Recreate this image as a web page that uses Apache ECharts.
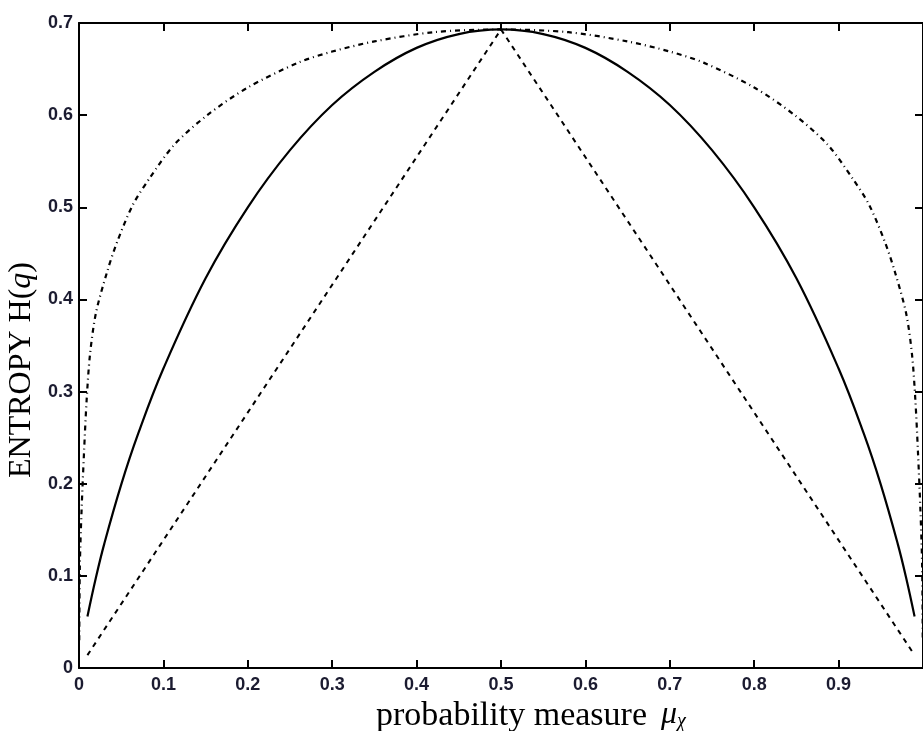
<!DOCTYPE html>
<html>
<head>
<meta charset="utf-8">
<script src="https://cdn.jsdelivr.net/npm/echarts@6/dist/echarts.min.js"></script>
<style>
  html, body { margin: 0; padding: 0; background: #fff; }
  #chart { width: 923px; height: 731px; }
</style>
</head>
<body>
<div id="chart"></div>
<script>
// Probability values along the horizontal axis and the three entropy curves
const solidX = [0.01, 0.02, 0.03, 0.05, 0.07, 0.10, 0.15, 0.20, 0.25, 0.30, 0.35, 0.40, 0.45, 0.50,
                0.55, 0.60, 0.65, 0.70, 0.75, 0.80, 0.85, 0.90, 0.93, 0.95, 0.97, 0.98, 0.99];
const solidY = [0.056, 0.098, 0.135, 0.199, 0.254, 0.325, 0.423, 0.500, 0.562, 0.611, 0.647, 0.673, 0.688, 0.693,
                0.688, 0.673, 0.647, 0.611, 0.562, 0.500, 0.423, 0.325, 0.254, 0.199, 0.135, 0.098, 0.056];

const triX = [0.01, 0.50, 0.99];
const triY = [0.014, 0.693, 0.014];

const outerX = [0.0003, 0.001, 0.003, 0.006, 0.009, 0.013, 0.02, 0.033, 0.045, 0.064, 0.084, 0.113, 0.152, 0.20,
                0.26, 0.30, 0.35, 0.42, 0.50, 0.58, 0.65, 0.70, 0.74, 0.80, 0.848, 0.887, 0.916, 0.936, 0.955, 0.967,
                0.98, 0.987, 0.991, 0.994, 0.997, 0.999, 0.9997];
const outerY = [0.03, 0.11, 0.17, 0.235, 0.29, 0.34, 0.385, 0.429, 0.462, 0.503, 0.532, 0.568, 0.600, 0.630,
                0.657, 0.669, 0.680, 0.690, 0.693, 0.690, 0.680, 0.669, 0.657, 0.630, 0.600, 0.568, 0.532, 0.503,
                0.462, 0.429, 0.385, 0.34, 0.29, 0.235, 0.17, 0.11, 0.03];

// Axis ranges and tick spacing
const xRange = [0, 1], xStep = 0.1;
const yRange = [0, 0.7], yStep = 0.1;

const pairs = (xs, ys) => xs.map((v, i) => [v, ys[i]]);

const labelStyle = {
  fontFamily: 'Liberation Sans, Arial, sans-serif',
  fontWeight: 'bold',
  fontSize: 18,
  color: '#1b1b30'
};
const lineAxis = { show: true, onZero: false, lineStyle: { color: '#000', width: 2 } };
const inTick = { show: true, inside: true, length: 8, lineStyle: { color: '#000', width: 2 } };
const serif = '"Liberation Serif", "Times New Roman", serif';

const chart = echarts.init(document.getElementById('chart'), null, { renderer: 'canvas' });
chart.setOption({
  animation: false,
  backgroundColor: '#fff',
  grid: { left: 79, right: -5, top: 23, bottom: 63, containLabel: false },
  xAxis: [
    {
      type: 'value', position: 'bottom', min: xRange[0], max: xRange[1], interval: xStep,
      axisLine: lineAxis, axisTick: inTick, splitLine: { show: false },
      axisLabel: Object.assign({ margin: 8, showMaxLabel: false }, labelStyle)
    },
    {
      type: 'value', position: 'top', min: xRange[0], max: xRange[1], interval: xStep,
      axisLine: lineAxis, axisTick: inTick, splitLine: { show: false },
      axisLabel: { show: false }
    }
  ],
  yAxis: [
    {
      type: 'value', position: 'left', min: yRange[0], max: yRange[1], interval: yStep,
      axisLine: lineAxis, axisTick: inTick, splitLine: { show: false },
      axisLabel: Object.assign({ margin: 6 }, labelStyle)
    },
    {
      type: 'value', position: 'right', min: yRange[0], max: yRange[1], interval: yStep,
      axisLine: lineAxis, axisTick: inTick, splitLine: { show: false },
      axisLabel: { show: false }
    }
  ],
  series: [
    {
      name: 'outer', type: 'line', symbol: 'none', smooth: 0.3,
      data: pairs(outerX, outerY),
      lineStyle: { color: '#000', width: 2.2, type: [5, 4, 1, 4] }
    },
    {
      name: 'binary', type: 'line', symbol: 'none', smooth: 0.4,
      data: pairs(solidX, solidY),
      lineStyle: { color: '#000', width: 2.2, type: 'solid' }
    },
    {
      name: 'triangle', type: 'line', symbol: 'none',
      data: pairs(triX, triY),
      lineStyle: { color: '#000', width: 2, type: [5, 5] }
    }
  ],
  graphic: [
    {
      type: 'text', x: 22, y: 370, rotation: Math.PI / 2,
      style: {
        text: '{a|ENTROPY H(}{q|q}{a|)}',
        textAlign: 'center', textVerticalAlign: 'middle',
        fill: '#000',
        rich: {
          a: { fontFamily: serif, fontSize: 32, fill: '#000' },
          q: { fontFamily: serif, fontSize: 32, fontStyle: 'italic', fill: '#000' }
        }
      }
    },
    {
      type: 'text', x: 376, y: 716,
      style: {
        text: 'probability measure',
        font: '34px ' + serif,
        textAlign: 'left', textVerticalAlign: 'middle', fill: '#000'
      }
    },
    {
      type: 'text', x: 661, y: 715,
      style: {
        text: 'μ',
        font: 'italic 32px ' + serif,
        textAlign: 'left', textVerticalAlign: 'middle', fill: '#000'
      }
    },
    {
      type: 'text', x: 677, y: 722,
      style: {
        text: 'χ',
        font: 'italic 20px ' + serif,
        textAlign: 'left', textVerticalAlign: 'middle', fill: '#000'
      }
    }
  ]
});
</script>
</body>
</html>
